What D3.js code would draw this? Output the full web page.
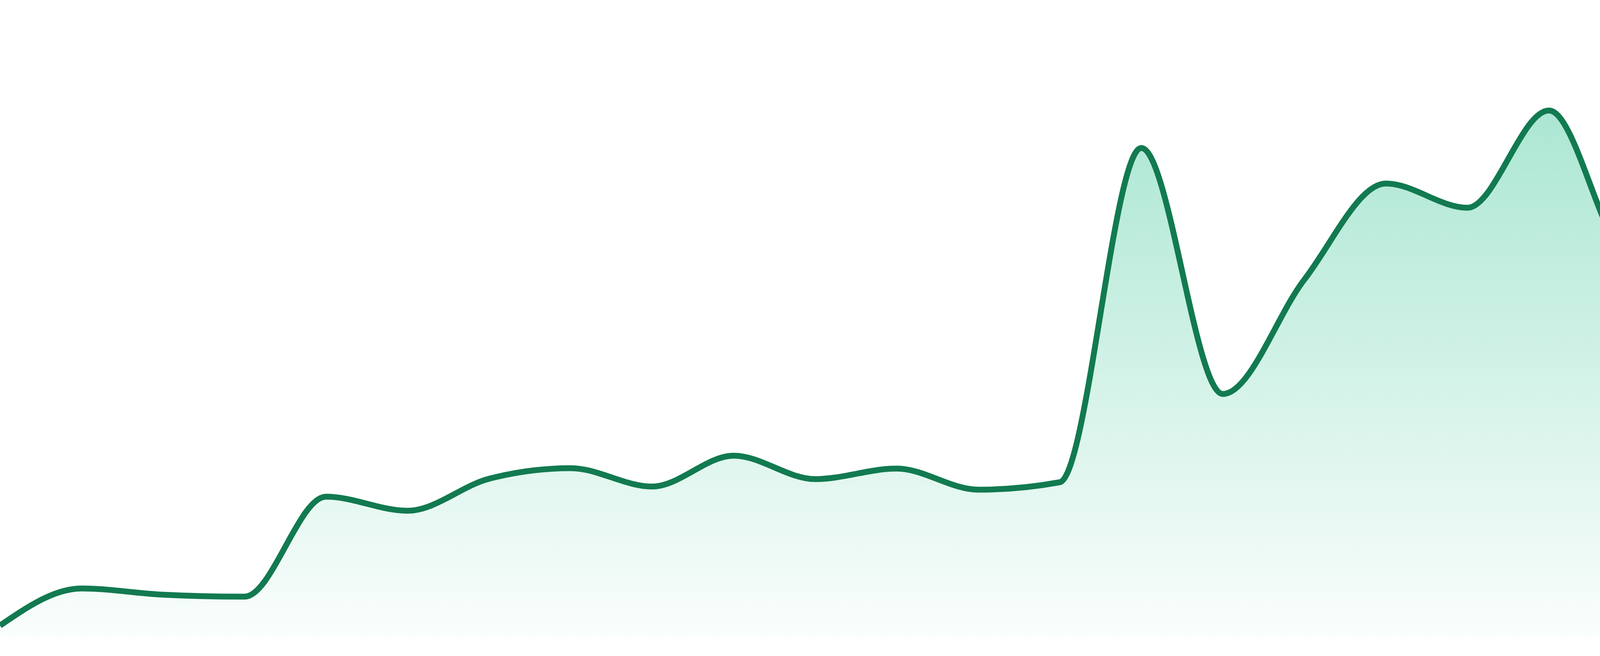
<!DOCTYPE html>
<html>
<head>
<meta charset="utf-8">
<script src="https://cdn.jsdelivr.net/npm/d3@7"></script>
<style>
  html, body { margin: 0; padding: 0; background: #ffffff; }
  svg { display: block; }
</style>
</head>
<body>
<div id="chart"></div>
<script>
// Data (one point per period)
const periods = d3.range(1, 25).map(i => "P" + i);
const values = [29, 124, 108, 103, 359, 323, 405, 432, 385, 464, 404, 431,
                377, 396, 1252, 622, 915, 1161, 1099, 1348, 976, 1271, 1429, 1185];

const W = 4800, H = 1680;
const baseY = 1631, topY = 202;

const svg = d3.select("#chart").append("svg")
  .attr("width", W).attr("height", H);

const x = d3.scalePoint().domain(periods).range([0, W]);
const y = d3.scaleLinear().domain([0, d3.max(values)]).range([baseY, topY]);

const data = periods.map((p, i) => ({ p, v: values[i] }));

const defs = svg.append("defs");
const grad = defs.append("linearGradient")
  .attr("id", "fillGrad")
  .attr("x1", 0).attr("y1", 0).attr("x2", 0).attr("y2", 1);
grad.append("stop").attr("offset", "0%").attr("stop-color", "#10b981").attr("stop-opacity", 0.37);
grad.append("stop").attr("offset", "100%").attr("stop-color", "#10b981").attr("stop-opacity", 0.02);

const area = d3.area()
  .x(d => x(d.p))
  .y0(baseY)
  .y1(d => y(d.v))
  .curve(d3.curveMonotoneX);

const line = d3.line()
  .x(d => x(d.p))
  .y(d => y(d.v))
  .curve(d3.curveMonotoneX);

svg.append("path")
  .datum(data)
  .attr("d", area)
  .attr("fill", "url(#fillGrad)");

svg.append("path")
  .datum(data)
  .attr("d", line)
  .attr("fill", "none")
  .attr("stroke", "#127a50")
  .attr("stroke-width", 15)
  .attr("stroke-linejoin", "round");
</script>
</body>
</html>
